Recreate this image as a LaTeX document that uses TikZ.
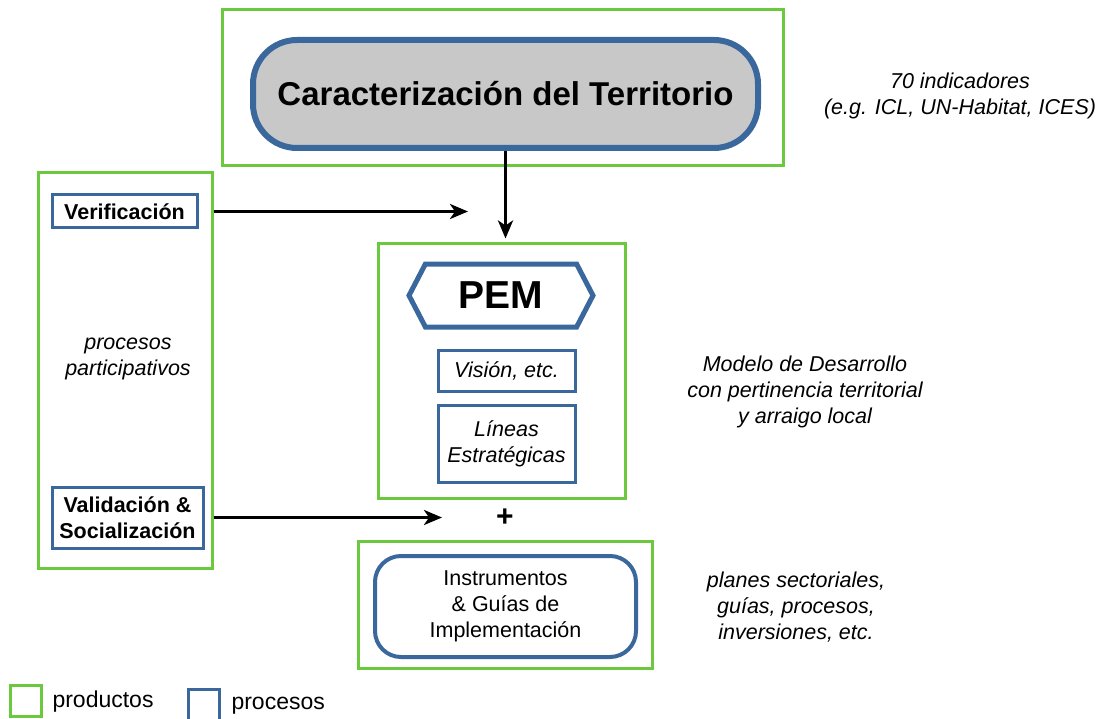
\documentclass[tikz,border=0pt]{standalone}
\usepackage{fontspec}
\setmainfont{Liberation Sans}
\usetikzlibrary{calc,positioning,shapes}
\usetikzlibrary{arrows.meta}
\tikzset{>={Stealth[length=18pt,width=15pt,inset=5pt]}}
\definecolor{prodgreen}{RGB}{108,200,60}
\definecolor{procblue}{RGB}{58,104,156}
\definecolor{boxgray}{RGB}{200,200,200}

\begin{document}
\begin{tikzpicture}[x=1pt, y=-1pt]
      \tikzstyle{pnode} = [draw=prodgreen, line width=3pt, rectangle, inner sep=0pt]
      \tikzstyle{bnode} = [draw=procblue, line width=3pt, rectangle, inner sep=0pt, align=center]
      \tikzstyle{tnode} = [align=center, font=\fontsize{21.5}{26}\selectfont\itshape]
      \tikzstyle{anode} = [->, line width=3pt]
      \useasboundingbox (0,0) rectangle (1102,719);

      %%%%%%%%%%%%%%%%%%%%%%%%%%%%%%
      %% productos (green frames)
      %%%%%%%%%%%%%%%%%%%%%%%%%%%%%%
      \node[pnode, minimum width=561pt, minimum height=156pt] (gtop) at (502.5,88) {};
      \node[pnode, minimum width=174pt, minimum height=395pt] (gleft) at (125,370.5) {};
      \node[pnode, minimum width=247pt, minimum height=254pt] (gpem) at (501.5,371) {};
      \node[pnode, minimum width=294pt, minimum height=127pt] (gbot) at (505,604.5) {};

      %%%%%%%%%%%%%%%%%%%%%%%%%%%%%%
      %% procesos (blue boxes)
      %%%%%%%%%%%%%%%%%%%%%%%%%%%%%%
      \node[bnode, line width=6pt, fill=boxgray, rounded corners=44pt, minimum width=505pt, minimum height=108pt,
            font=\fontsize{33}{40}\selectfont\bfseries] (terr) at (505.5,94) {Caracterizaci\'on del Territorio};

      \node[bnode, font=\fontsize{21.5}{26}\selectfont\bfseries, minimum width=145pt, minimum height=33pt] (verif) at (124.5,211.5) {Verificaci\'on};
      \node[bnode, font=\fontsize{21.5}{26}\selectfont\bfseries, minimum width=151pt, minimum height=61pt] (valid) at (127.5,517.5) {Validaci\'on \&\\Socializaci\'on};
      \node[tnode] (part) at (128,359) {procesos\\participativos};

      \node[bnode, line width=5pt, shape=signal, signal to=west and east, signal pointer angle=125,
            minimum width=184pt, minimum height=63pt, font=\fontsize{39}{46}\selectfont\bfseries] (pem) at (501,295.5) {PEM};
      \node[bnode, minimum width=137pt, minimum height=41pt, font=\fontsize{21.5}{26}\selectfont\itshape] (vision) at (506.5,370.5) {Visi\'on, etc.};
      \node[bnode, minimum width=137pt, minimum height=77pt, font=\fontsize{21.5}{26}\selectfont\itshape] (lineas) at (506.5,443.5) {L\'ineas\\Estrat\'egicas};

      \node[bnode, line width=4pt, rounded corners=26pt, minimum width=261pt, minimum height=101pt,
            font=\fontsize{21.5}{26}\selectfont] (instr) at (505.5,606.5) {Instrumentos\\\& Gu\'ias de\\Implementaci\'on};

      \node[font=\fontsize{30}{30}\selectfont\bfseries] (plus) at (505,518) {+};

      %% side notes
      \node[tnode] (ind) at (960,96) {70 indicadores\\(e.g. ICL, UN-Habitat, ICES)};
      \node[tnode] (modelo) at (805,392) {Modelo de Desarrollo\\con pertinencia territorial\\y arraigo local};
      \node[tnode] (planes) at (796,607) {planes sectoriales,\\gu\'ias, procesos,\\inversiones, etc.};

      %% legend
      \node[pnode, minimum size=31pt] (lgprod) at (26,701) {};
      \node[anchor=west, font=\fontsize{23}{28}\selectfont] (lgprodt) at (49,702) {productos};
      \node[bnode, minimum size=31pt] (lgproc) at (204,704.5) {};
      \node[anchor=west, font=\fontsize{23}{28}\selectfont] (lgproct) at (228,706) {procesos};

      % arrows
      \coordinate (vtip) at (468,211.5);
      \coordinate (stip) at (442,517.5);
      \draw[anode, line width=3.5pt, shorten >=4pt] (terr.south) -- (terr.south |- gpem.north);
      \draw[anode] (verif.east -| gleft.east) -- (vtip);
      \draw[anode] (valid.east -| gleft.east) -- (stip);

\end{tikzpicture}
\end{document}
